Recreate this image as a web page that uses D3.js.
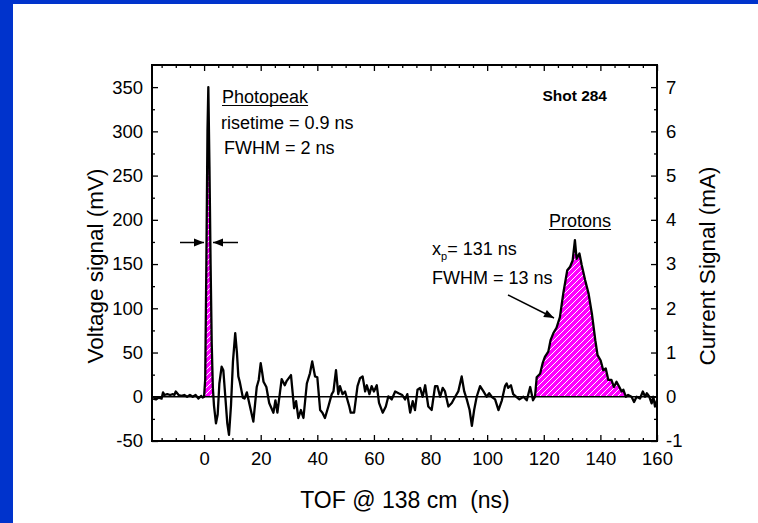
<!DOCTYPE html>
<html>
<head>
<meta charset="utf-8">
<script src="https://cdn.jsdelivr.net/npm/d3@7"></script>
<style>
  html, body { margin: 0; padding: 0; background: #ffffff; }
  svg { display: block; }
  text { font-family: "Liberation Sans", Arial, Helvetica, sans-serif; fill: #000; white-space: pre; }
</style>
</head>
<body>
<svg id="chart" width="758" height="523"></svg>
<script>
// ---- data ----
const tofNs = [-18,-17,-16,-15,-14.5,-14,-13,-12,-11,-10.5,-10,-9,-8,-7,-6,-5,-4,-3,-2,-1,-0.5,0,
  0.4,0.8,1.2,1.5,1.9,2.3,2.7,3.1,3.5,4.2,4.8,5.4,6.2,6.8,7.5,8.2,8.8,9.5,10.2,11,11.6,12.1,12.6,13.7,14.3,15.1,16,17.4,18.6,19.3,20,20.5,21,22,23,24.5,25.2,25.9,27.4,28.5,29.2,30.7,31.8,32.5,33.3,34.2,35.1,36.3,37.4,38.2,39.2,40,41,41.8,42.7,43.9,45.1,45.7,46.6,47.4,48,48.9,49.8,51.3,51.8,53,54.2,55.1,56,56.9,57.5,58.4,59.2,60,61,61.8,63.1,64.2,65.1,66.3,67.5,68.7,70,71,71.8,72.8,73.7,74.5,75.4,76.3,77.2,78.1,79.2,80.4,81.6,82.4,83.4,84.3,85.1,86.3,87.5,88.7,89.8,91,91.9,92.8,93.8,94.6,95.4,96.3,97.5,98.7,99.8,100.7,101.6,102.8,104,105.2,106.3,106.9,107.4,108.4,109.2,110.3,111.4,112.8,114,115.2,116.2,116.9,
  117.5,118.7,119.6,120.4,121.6,122.4,123.4,124.5,125.7,126.9,128.3,129.3,130.2,131,131.6,132.6,133.4,134.6,135.8,137,138.2,139,140.1,141,141.9,142.8,143.9,144.8,145.7,146.7,147.5,148.1,149,
  149.8,151,151.9,152.8,154,155,155.8,156.4,157.3,158.1,158.7,159.3,160];
const voltageMv = [-2,-3,-1,-2,5,2,3,2,3,2,6,2,1,2,0,2,0,2,-2,1,-1,0,
  20,150,300,350,260,150,60,10,-10,-30,-20,15,34,30,0,-30,-43,-10,40,72,50,23,17,-1,-2,5,-8,-28,11,19,38,28,17,11,-7,-18,-4,-18,20,13,18,24.5,-13,-5,-24,-15,-24,15,26.5,40,23,22,-15,-18,-24,-11,3,6,30,3,12,3,6,-11,-18,-18,12,21,23,6,13,3,12,6,13,-7,-18,-11,0.5,-3,6,4,2,-3,3,-18,-5,-15,8,10,0,13,-11,-15,12,12,0,10,6,-11,-7,0,6,23,6,-3,-15,-33,-15,0,12,6,0,4,0,-3,-15,-4,12,15,10,13,3,0,-3,0,-4,11,-4,0,
  22,26,38,45,51,64,72,78,90,117,143,147,154,177,156,162,149,132,117,94,64,47,41,30,32,19,19,11,17,11,6,8,0,
  2,0,-6,0,-2,6,0,4,0,-7.5,0,-11,-4];
const fillRanges = [[0, 3.3], [116.9, 149]];
const xTicks = [0, 20, 40, 60, 80, 100, 120, 140, 160];
const yTicks = [-50, 0, 50, 100, 150, 200, 250, 300, 350];
const y2Ticks = [-1, 0, 1, 2, 3, 4, 5, 6, 7];
const xTitle = "TOF @ 138 cm  (ns)";
const yTitle = "Voltage signal (mV)";
const y2Title = "Current Signal (mA)";

// ---- layout ----
const svg = d3.select("#chart");
const W = 758, H = 523;
const L = 152, R = 657, T = 65, B = 441;
svg.append("rect").attr("x", 0).attr("y", 0).attr("width", W).attr("height", H).attr("fill", "#fff");
svg.append("rect").attr("x", 0).attr("y", 0).attr("width", W).attr("height", 4).attr("fill", "#0033cc");
svg.append("rect").attr("x", 0).attr("y", 0).attr("width", 13).attr("height", H).attr("fill", "#0033cc");

const x = d3.scaleLinear().domain([-18.4, 160]).range([L, R]);
const y = d3.scaleLinear().domain([-50, 375]).range([B, T]);
const y2 = d3.scaleLinear().domain([-1, 7.5]).range([B, T]);

const data = tofNs.map((t, i) => ({ t, v: voltageMv[i] }));

// hatch pattern
const defs = svg.append("defs");
const pat = defs.append("pattern").attr("id", "hatch").attr("patternUnits", "userSpaceOnUse")
  .attr("width", 6).attr("height", 6);
pat.append("rect").attr("width", 6).attr("height", 6).attr("fill", "#ff00ff");
pat.append("path").attr("d", "M-1,7 L7,-1 M-4,4 L4,-4 M2,10 L10,2").attr("stroke", "#fff").attr("stroke-width", 1);
defs.append("clipPath").attr("id", "plotclip").append("rect")
  .attr("x", L).attr("y", T).attr("width", R - L).attr("height", B - T);

const gPlot = svg.append("g").attr("clip-path", "url(#plotclip)");
const area = d3.area().x(d => x(d.t)).y0(y(0)).y1(d => y(Math.max(0, d.v)));
fillRanges.forEach(([a, b]) => {
  gPlot.append("path").datum(data.filter(d => d.t >= a && d.t <= b))
    .attr("d", area).attr("fill", "url(#hatch)");
});
// zero line
gPlot.append("line").attr("x1", L).attr("x2", R).attr("y1", y(0)).attr("y2", y(0))
  .attr("stroke", "#000").attr("stroke-width", 1.5);
// trace
gPlot.append("path").datum(data)
  .attr("d", d3.line().x(d => x(d.t)).y(d => y(d.v)))
  .attr("fill", "none").attr("stroke", "#000").attr("stroke-width", 2.3).attr("stroke-linejoin", "round");

// ---- axes ----
const fs = "18.5px";
const fmt = d => String(d);
function styleAxis(g) {
  g.select(".domain").remove();
  g.selectAll("line").attr("stroke", "#000").attr("stroke-width", 1.3);
  g.selectAll("text").style("font-size", fs).style("font-family", "'Liberation Sans', Arial, sans-serif");
}
const xMinor = d3.range(-15, 161, 5).filter(v => v % 20 !== 0);
const yMinor = d3.range(-25, 375, 50);
const y2Minor = d3.range(-0.5, 7.5, 1);

svg.append("g").attr("transform", `translate(0,${B})`)
  .call(d3.axisBottom(x).tickValues(xTicks).tickSize(-6).tickPadding(11).tickFormat(fmt)).call(styleAxis);
svg.append("g").attr("transform", `translate(0,${B})`)
  .call(d3.axisBottom(x).tickValues(xMinor).tickSize(-3).tickFormat("")).call(styleAxis);
svg.append("g").attr("transform", `translate(0,${T})`)
  .call(d3.axisTop(x).tickValues(xTicks).tickSize(-6).tickFormat("")).call(styleAxis);
svg.append("g").attr("transform", `translate(0,${T})`)
  .call(d3.axisTop(x).tickValues(xMinor).tickSize(-3).tickFormat("")).call(styleAxis);

svg.append("g").attr("transform", `translate(${L},0)`)
  .call(d3.axisLeft(y).tickValues(yTicks).tickSize(-6).tickPadding(9).tickFormat(fmt)).call(styleAxis);
svg.append("g").attr("transform", `translate(${L},0)`)
  .call(d3.axisLeft(y).tickValues(yMinor).tickSize(-3).tickFormat("")).call(styleAxis);
svg.append("g").attr("transform", `translate(${R},0)`)
  .call(d3.axisRight(y2).tickValues(y2Ticks).tickSize(-6).tickPadding(9).tickFormat(fmt)).call(styleAxis);
svg.append("g").attr("transform", `translate(${R},0)`)
  .call(d3.axisRight(y2).tickValues(y2Minor).tickSize(-3).tickFormat("")).call(styleAxis);

// frame
svg.append("rect").attr("x", L).attr("y", T).attr("width", R - L).attr("height", B - T)
  .attr("fill", "none").attr("stroke", "#000").attr("stroke-width", 2);

// titles
svg.append("text").attr("x", 405).attr("y", 508).attr("text-anchor", "middle")
  .style("font-size", "23px").text(xTitle);
svg.append("text").attr("transform", `translate(103,266) rotate(-90)`).attr("text-anchor", "middle")
  .style("font-size", "22.5px").text(yTitle);
svg.append("text").attr("transform", `translate(715,266) rotate(-90)`).attr("text-anchor", "middle")
  .style("font-size", "22.5px").text(y2Title);

// annotations
const afs = "18px";
function underlined(txt, xx, yy) {
  const t = svg.append("text").attr("x", xx).attr("y", yy).style("font-size", afs).text(txt);
  const w = t.node().getComputedTextLength();
  svg.append("line").attr("x1", xx).attr("x2", xx + w).attr("y1", yy + 2.5).attr("y2", yy + 2.5)
    .attr("stroke", "#000").attr("stroke-width", 1.2);
}
underlined("Photopeak", 222, 103);
svg.append("text").attr("x", 221).attr("y", 129).style("font-size", afs).text("risetime = 0.9 ns");
svg.append("text").attr("x", 224).attr("y", 154).style("font-size", afs).text("FWHM = 2 ns");
underlined("Protons", 549, 227);
const xp = svg.append("text").attr("x", 432).attr("y", 255).style("font-size", afs);
xp.append("tspan").text("x");
xp.append("tspan").attr("dy", 5).style("font-size", "11px").text("p");
xp.append("tspan").attr("dy", -5).text("= 131 ns");
svg.append("text").attr("x", 432).attr("y", 284).style("font-size", afs).text("FWHM = 13 ns");
svg.append("text").attr("x", 607).attr("y", 101).attr("text-anchor", "end")
  .style("font-size", "15.5px").style("font-weight", "bold").text("Shot 284");

// arrows
function arrow(x1, y1, x2, y2) {
  svg.append("line").attr("x1", x1).attr("y1", y1).attr("x2", x2).attr("y2", y2)
    .attr("stroke", "#000").attr("stroke-width", 1.5);
  const ang = Math.atan2(y2 - y1, x2 - x1);
  const len = 10, wid = 4;
  const bx = x2 - len * Math.cos(ang), by = y2 - len * Math.sin(ang);
  const px = -Math.sin(ang) * wid, py = Math.cos(ang) * wid;
  svg.append("path").attr("d", `M${x2},${y2}L${bx + px},${by + py}L${bx - px},${by - py}Z`).attr("fill", "#000");
}
arrow(180, 242.5, 204, 242.5);
arrow(238, 242.5, 213, 242.5);
arrow(508, 295, 554, 318);
</script>
</body>
</html>
